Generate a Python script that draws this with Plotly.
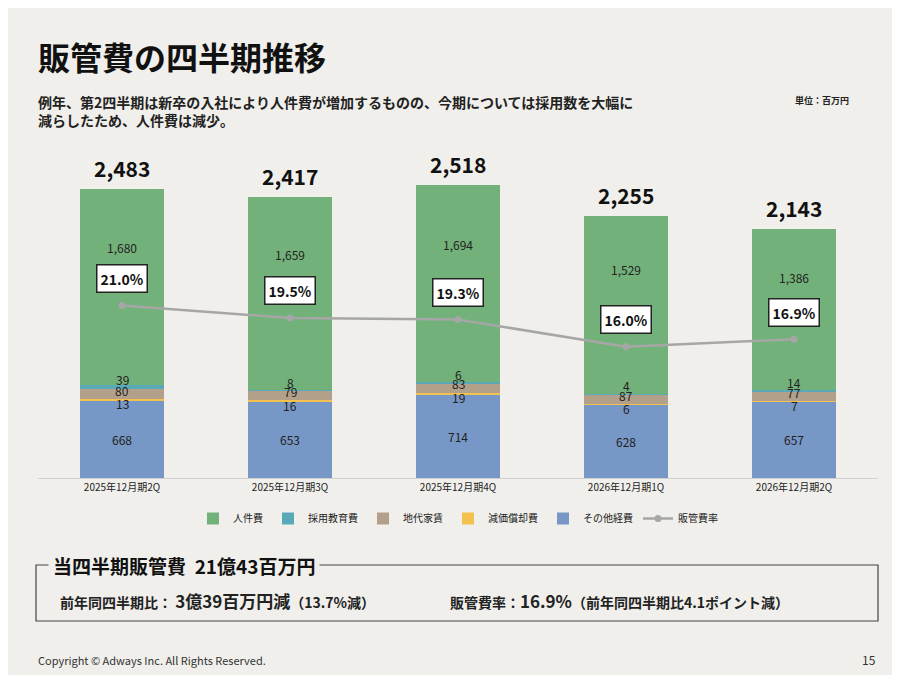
import plotly.graph_objects as go

categories = ["2025年12月期2Q", "2025年12月期3Q", "2025年12月期4Q", "2026年12月期1Q", "2026年12月期2Q"]
other = [668, 653, 714, 628, 657]
depreciation = [13, 16, 19, 6, 7]
rent = [80, 79, 83, 87, 77]
recruit = [39, 8, 6, 4, 14]
personnel = [1680, 1659, 1694, 1529, 1386]
totals = [2483, 2417, 2518, 2255, 2143]
ratio = [21.0, 19.5, 19.3, 16.0, 16.9]

FONT = "Noto Sans CJK JP"
BG = "#f0efeb"

series = [
    ("その他経費", other, "#7797c6"),
    ("減価償却費", depreciation, "#f2c14e"),
    ("地代家賃", rent, "#b3a08a"),
    ("採用教育費", recruit, "#5aa9b8"),
    ("人件費", personnel, "#72b27a"),
]
rank = {"人件費": 1, "採用教育費": 2, "地代家賃": 3, "減価償却費": 4, "その他経費": 5}

fig = go.Figure()
for name, vals, col in series:
    fig.add_bar(x=categories, y=vals, name=name, marker=dict(color=col, line=dict(width=0)),
                width=0.5, legendrank=rank[name])
fig.add_scatter(x=categories, y=ratio, name="販管費率", yaxis="y2", mode="lines+markers",
                line=dict(color="#a6a6a6", width=2.5), marker=dict(size=7, color="#a6a6a6"), legendrank=6)

ann = []
# segment labels
offs = {"その他経費": 0, "減価償却費": -4, "地代家賃": 4, "採用教育費": 8, "人件費": 0}
for i, c in enumerate(categories):
    base = 0
    for name, vals, col in series:
        frac = 0.7 if name == "人件費" else 0.5
        ann.append(dict(x=c, y=base + vals[i] * frac, text=f"{vals[i]:,}", showarrow=False, yshift=offs[name],
                        yanchor="middle", font=dict(size=12, color="#222")))
        base += vals[i]
    ann.append(dict(x=c, y=totals[i], text=f"<b>{totals[i]:,}</b>", showarrow=False, yanchor="bottom",
                    yshift=4, font=dict(size=21, color="#111")))
    ann.append(dict(x=c, y=ratio[i], yref="y2", text=f"<b>{ratio[i]:.1f}%</b>", showarrow=False,
                    yshift=27, yanchor="middle", bgcolor="white", bordercolor="#222", borderwidth=1.5,
                    borderpad=3, font=dict(size=14, color="#111")))


def page_text(x, y, text, size, anchor="left", **kw):
    return dict(x=x / 900, y=1 - y / 675, xref="paper", yref="paper", xanchor=anchor, yanchor="middle",
                text=text, showarrow=False, font=dict(size=size, color=kw.pop("color", "#222")), **kw)


ann += [
    page_text(28, 48, "<b>販管費の四半期推移</b>", 32, color="#111"),
    page_text(28, 103, "<b>例年、第2四半期は新卒の入社により人件費が増加するものの、今期については採用数を大幅に<br>減らしたため、人件費は減少。</b>",
              14, align="left"),
    page_text(843, 92, "<b>単位：百万円</b>", 9, anchor="right"),
    page_text(40, 557, "<b>当四半期販管費  21億43百万円</b>", 19, bgcolor=BG, borderpad=4, color="#111"),
    page_text(50, 592, "<b>前年同四半期比： <span style='font-size:17px'>3億39百万円減</span>（13.7%減）</b>", 14),
    page_text(440, 592, "<b>販管費率：<span style='font-size:17px'>16.9%</span>（前年同四半期比4.1ポイント減）</b>", 14),
    page_text(28, 652, "Copyright © Adways Inc. All Rights Reserved.", 11, color="#333"),
    page_text(870, 651, "15", 12, anchor="right", color="#333"),
]

fig.update_layout(
    width=900, height=675, margin=dict(l=0, r=0, t=0, b=0),
    paper_bgcolor=BG, plot_bgcolor=BG, barmode="stack", bargap=0.5,
    font=dict(family=FONT, color="#222"),
    xaxis=dict(domain=[30 / 900, 870 / 900], showgrid=False, showline=True, linecolor="#d0d0d0",
               tickfont=dict(size=10), ticks="", fixedrange=True),
    yaxis=dict(domain=[1 - 470 / 675, 1 - 140 / 675], range=[0, 2835], visible=False),
    yaxis2=dict(domain=[1 - 470 / 675, 1 - 140 / 675], range=[0, 40.2], overlaying="y", visible=False),
    legend=dict(orientation="h", x=0.5, xanchor="center", y=1 - 496 / 675, yanchor="top",
                font=dict(size=10), traceorder="normal", bgcolor="rgba(0,0,0,0)"),
    showlegend=True, annotations=ann,
    shapes=[dict(type="rect", xref="paper", yref="paper", x0=28 / 900, x1=870 / 900,
                 y0=1 - 613 / 675, y1=1 - 557 / 675, line=dict(color="#444", width=1.2))],
)

fig.write_html("out.html")
